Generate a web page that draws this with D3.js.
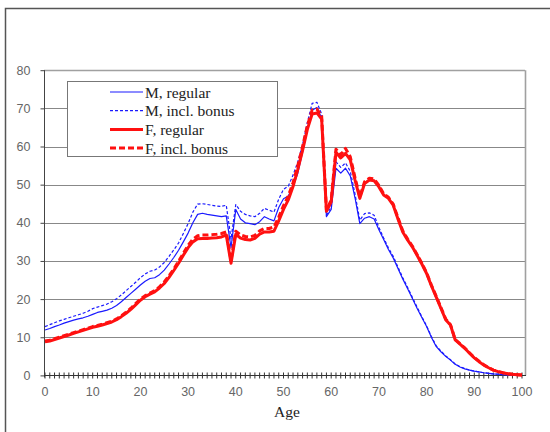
<!DOCTYPE html>
<html><head><meta charset="utf-8">
<script src="https://cdn.jsdelivr.net/npm/d3@7"></script>
<style>body{margin:0;background:#fff}svg{display:block}</style>
</head><body>
<script>
const ages = d3.range(0, 101);
const yTicks = [0, 10, 20, 30, 40, 50, 60, 70, 80];
const xTickLabels = [0, 10, 20, 30, 40, 50, 60, 70, 80, 90, 100];
const seriesNames = ["M, regular", "M, incl. bonus", "F, regular", "F, incl. bonus"];
const xTitle = "Age";

const mRegular = [11.9,12.3,12.8,13.2,13.7,14.1,14.5,14.8,15.1,15.5,16.0,16.5,16.8,17.1,17.6,18.3,19.3,20.4,21.5,22.6,23.7,24.7,25.4,25.6,26.4,27.6,29.2,30.9,32.8,35.0,37.3,40.0,42.2,42.5,42.2,42.0,41.8,41.6,41.8,33.5,43.5,41.0,40.0,39.8,39.5,40.3,41.6,41.0,40.5,44.0,46.3,47.0,49.5,53.0,58.5,64.3,69.5,70.2,67.5,41.6,43.5,54.3,53.0,54.3,52.3,46.5,39.8,41.2,41.6,41.0,38.2,35.6,33.0,30.8,28.0,25.3,22.8,20.2,17.6,15.2,12.8,10.0,7.6,6.2,5.0,4.0,2.9,2.2,1.7,1.4,1.1,0.9,0.7,0.55,0.4,0.3,0.2,0.15,0.1,0.07,0.05];
const mBonus = [12.8,13.3,13.8,14.3,14.7,15.1,15.5,15.9,16.3,16.8,17.5,17.9,18.3,18.7,19.3,20.1,21.1,22.2,23.3,24.4,25.6,26.6,27.3,27.6,28.4,29.6,31.2,32.9,34.7,37.2,39.8,42.8,44.9,45.0,44.8,44.6,44.4,44.3,44.6,35.8,44.8,43.0,42.2,41.8,41.6,42.5,43.8,43.3,42.8,46.2,48.8,49.6,52.5,56.0,60.5,66.3,71.3,71.6,68.5,42.0,44.2,56.0,54.5,55.7,53.5,47.5,40.7,42.4,42.6,42.0,38.8,36.0,33.4,31.2,28.4,25.6,23.1,20.5,17.9,15.4,13.0,10.2,7.8,6.4,5.1,4.1,3.0,2.3,1.8,1.4,1.1,0.9,0.7,0.55,0.4,0.3,0.2,0.15,0.1,0.07,0.05];
const fRegular = [8.8,9.0,9.4,9.8,10.2,10.6,11.0,11.4,11.8,12.2,12.6,12.9,13.2,13.6,14.0,14.6,15.4,16.3,17.3,18.5,19.7,20.6,21.3,21.9,22.9,24.1,25.7,27.5,29.4,31.5,33.5,35.0,35.8,35.9,35.9,36.0,36.1,36.3,36.8,29.4,37.0,36.0,35.6,35.5,35.9,37.0,37.6,37.6,37.8,40.5,43.5,46.0,49.5,54.0,59.0,64.5,68.5,68.8,67.2,43.0,45.5,58.5,57.0,58.2,56.5,51.2,46.4,50.3,51.2,51.0,49.4,47.3,46.4,44.6,41.0,37.6,35.5,33.7,31.5,29.2,26.7,23.5,20.6,17.6,14.6,13.2,9.3,8.2,7.1,5.8,4.6,3.6,2.7,2.0,1.4,1.0,0.7,0.45,0.3,0.2,0.1];
const fBonus = [9.0,9.2,9.6,10.0,10.4,10.8,11.2,11.6,12.0,12.4,12.8,13.1,13.4,13.8,14.2,14.8,15.6,16.6,17.6,18.8,20.0,20.9,21.6,22.2,23.2,24.5,26.1,27.9,29.9,32.0,34.1,35.7,36.6,36.8,36.8,36.9,37.0,37.2,37.6,30.2,37.8,36.8,36.4,36.3,36.7,37.9,38.5,38.5,38.9,41.5,44.5,47.0,50.5,55.0,60.0,65.5,69.5,69.8,68.0,43.3,46.0,59.3,57.8,59.5,57.3,51.8,46.8,50.8,51.7,51.5,49.8,47.6,46.7,44.9,41.3,37.9,35.8,33.9,31.7,29.4,26.9,23.7,20.8,17.8,14.8,13.3,9.4,8.3,7.2,5.9,4.7,3.7,2.8,2.0,1.4,1.0,0.7,0.45,0.3,0.2,0.1];

const W = 550, H = 432;
const svg = d3.select("body").append("svg").attr("width", W).attr("height", H);

// outer frame (top and left edges visible)
svg.append("path").attr("d", "M5.5,432 L5.5,8.5 L550,8.5")
  .attr("fill", "none").attr("stroke", "#555").attr("stroke-width", 1.5);

const x = d3.scaleLinear().domain([0, 100]).range([45, 522]);
const y = d3.scaleLinear().domain([0, 80]).range([375.4, 70.2]);
const plotL = 44, plotR = 525;

// gridlines
svg.append("g").selectAll("line").data(yTicks.filter(v => v > 0)).join("line")
  .attr("x1", plotL).attr("x2", plotR)
  .attr("y1", d => Math.round(y(d)) + 0.5).attr("y2", d => Math.round(y(d)) + 0.5)
  .attr("stroke", d => d === 80 ? "#a0a0a0" : "#888").attr("stroke-width", d => d === 80 ? 1.6 : 1);

// right border of plot area
svg.append("line").attr("x1", plotR + 0.5).attr("x2", plotR + 0.5)
  .attr("y1", y(80)).attr("y2", y(0)).attr("stroke", "#a0a0a0").attr("stroke-width", 1.6);

// y axis
const yAxis = d3.axisLeft(y).tickValues(yTicks).tickSize(4).tickPadding(10).tickFormat(d3.format("d"));
const gy = svg.append("g").attr("transform", `translate(${plotL + 0.5},0)`).call(yAxis);
gy.select(".domain").attr("stroke", "#444").attr("d", `M0,${y(80)}V${y(0) + 2}`);
gy.selectAll(".tick line").attr("stroke", "#444");
gy.selectAll(".tick text").attr("fill", "#666").style("font-family", "Liberation Sans, Arial, sans-serif").style("font-size", "12.5px");

// x axis: minor ticks every year crossing the axis
const gx = svg.append("g").attr("transform", `translate(0,${Math.round(y(0)) + 0.5})`);
gx.append("line").attr("x1", plotL).attr("x2", plotR + 1).attr("stroke", "#333");
gx.selectAll("line.tk").data(ages).join("line").attr("class", "tk")
  .attr("x1", d => x(d)).attr("x2", d => x(d)).attr("y1", -3).attr("y2", 3)
  .attr("stroke", "#333").attr("stroke-width", 1);
gx.selectAll("text").data(xTickLabels).join("text")
  .attr("x", d => x(d)).attr("y", 20).attr("text-anchor", "middle")
  .attr("fill", "#666").style("font-family", "Liberation Sans, Arial, sans-serif").style("font-size", "12.5px")
  .text(d => d);

svg.append("text").attr("x", 287).attr("y", 417).attr("text-anchor", "middle")
  .style("font-family", "Liberation Serif, Times New Roman, serif").style("font-size", "15.5px").attr("fill", "#222")
  .text(xTitle);

const line = d3.line().x((d, i) => x(ages[i])).y(d => y(d));
const styles = [
  { data: mRegular, color: "#1a1aff", w: 1.2, dash: null },
  { data: mBonus, color: "#1a1aff", w: 1.2, dash: "3,2" },
  { data: fRegular, color: "#ff1010", w: 3, dash: null },
  { data: fBonus, color: "#ff1010", w: 3, dash: "6,3" }
];
// draw order: blue first, red on top
[styles[0], styles[1], styles[3], styles[2]].forEach(s => {
  svg.append("path").datum(s.data).attr("d", line)
    .attr("fill", "none").attr("stroke", s.color).attr("stroke-width", s.w)
    .attr("stroke-linejoin", "round")
    .attr("stroke-dasharray", s.dash);
});

// legend
const lg = svg.append("g");
lg.append("rect").attr("x", 67.5).attr("y", 81.5).attr("width", 210).attr("height", 75)
  .attr("fill", "#fff").attr("stroke", "#777").attr("stroke-width", 1);
const rowsY = [92, 110.7, 129.4, 148.1];
seriesNames.forEach((name, i) => {
  const s = styles[i];
  lg.append("line").attr("x1", 110).attr("x2", 143).attr("y1", rowsY[i]).attr("y2", rowsY[i])
    .attr("stroke", s.color).attr("stroke-width", s.w).attr("stroke-dasharray", s.dash);
  lg.append("text").attr("x", 145).attr("y", rowsY[i] + 5.5)
    .style("font-family", "Liberation Serif, Times New Roman, serif").style("font-size", "15.5px").attr("fill", "#222")
    .text(name);
});
</script>
</body></html>
